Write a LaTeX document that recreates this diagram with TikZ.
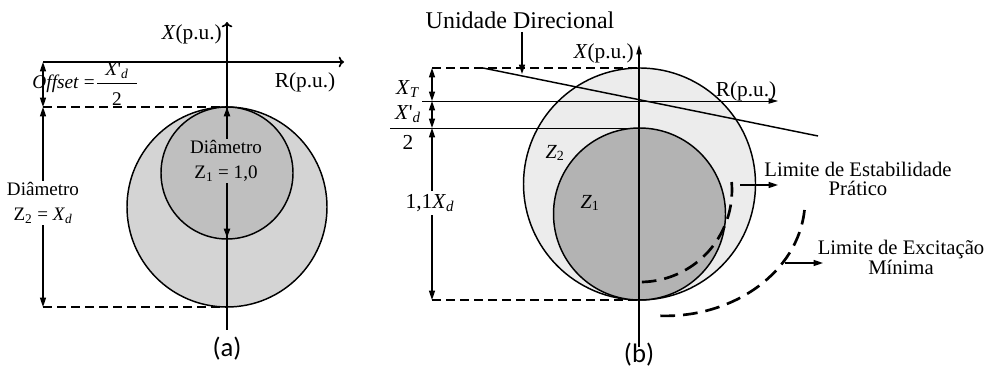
\documentclass[tikz,border=0pt]{standalone}
\usepackage{fontspec}
\setmainfont{Liberation Serif}
\newfontfamily\capfont{Carlito}
\usetikzlibrary{arrows.meta}
\definecolor{gAa}{RGB}{212,212,212}
\definecolor{gAb}{RGB}{191,191,191}
\definecolor{gBa}{RGB}{236,236,236}
\definecolor{gBb}{RGB}{179,179,179}
\tikzset{
  circ/.style={draw=black, line width=1.1pt},
  dashln/.style={line width=2pt, dash pattern=on 7pt off 3.5pt},
  dashcurve/.style={line width=2pt, dash pattern=on 11pt off 6pt},
  tip/.tip={Triangle[length=7pt,width=4.5pt]},
  dimarr/.style={line width=1pt, tip-tip},
  dimone/.style={line width=1pt, -tip},
  axisA/.style={line width=1.2pt, -{To[length=4pt,width=8pt]}},
  axisB/.style={line width=0.8pt, -{Triangle[length=7pt,width=4pt]}},
  thin/.style={line width=0.7pt},
  lbl/.style={inner sep=1pt, font=\fontsize{14.3}{18.75}\selectfont, align=center},
  axl/.style={inner sep=0pt, font=\fontsize{16}{18}\selectfont},
  caption/.style={inner sep=0pt, font=\capfont\fontsize{20}{22}\selectfont},
  limlbl/.style={inner sep=0pt, font=\fontsize{15.5}{14}\selectfont, align=center},
}
\newcommand{\vX}{\textit{X}}
\newcommand{\pr}{\textquotesingle}
\newcommand{\sbi}[1]{\textsubscript{\textit{#1}}}
\begin{document}
\begin{tikzpicture}[x=0.75pt,y=-0.75pt]
\useasboundingbox (0,0) rectangle (987,373);

% ---------------- panel (a) ----------------
\coordinate (aC1) at (227,207);
\coordinate (aC2) at (227,173);
\fill[gAa] (aC1) circle (100);
\draw[circ] (aC1) circle (100);
\fill[gAb] (aC2) circle (66);
\draw[circ] (aC2) circle (66);

\coordinate (aXb) at (227,330);
\coordinate (aXt) at (227,22);
\draw[axisA] (aXb) -- (aXt);
\coordinate (aRl) at (43,62);
\coordinate (aRr) at (344,62);
\draw[axisA] (aRl) -- (aRr);

\coordinate (aTl) at (43,107);
\coordinate (aTr) at (227,107);
\coordinate (aBl) at (43,307);
\coordinate (aBr) at (227,307);
\draw[dashln] (aTl) -- (aTr);
\draw[dashln] (aBl) -- (aBr);

\coordinate (aIb) at (227,238);
\draw[dimarr, line width=1.6pt] (aTr) -- (aIb);
\node[lbl, fill=gAb] (aD1) at (226,161) {Diâmetro\\Z\textsubscript{1} = 1,0};

\draw[dimarr] (aRl) -- (aTl);
\draw[dimarr] (aTl) -- (aBl);
\node[lbl, fill=white] (aD2) at (43,203) {Diâmetro\\Z\textsubscript{2} = \vX\sbi{d}};

\node[axl, anchor=base east] (aXl) at (222,40) {\vX(p.u.)};
\node[axl, anchor=base] (aRlab) at (305,88) {R(p.u.)};

\node[inner sep=0pt, anchor=base east, font=\fontsize{14.5}{16}\selectfont] (aOff) at (95,89) {\textit{Offset} =};
\node[inner sep=0pt, font=\fontsize{14.5}{16}\selectfont] (aNum) at (117,71) {\vX\pr\sbi{d}};
\coordinate (aFl) at (97,83);
\coordinate (aFr) at (137,83);
\draw[thin] (aFl) -- (aFr);
\node[inner sep=0pt, font=\fontsize{14.5}{16}\selectfont] (aDen) at (117,99) {2};

\node[caption] (capA) at (227,349) {(a)};

% ---------------- panel (b) ----------------
\coordinate (bC1) at (639.5,184);
\coordinate (bC2) at (639.5,214);
\fill[gBa] (bC1) circle (116);
\draw[circ] (bC1) circle (116);
\fill[gBb] (bC2) circle (86);
\draw[circ] (bC2) circle (86);

\coordinate (bXb) at (639,347);
\coordinate (bXt) at (639,45);
\draw[axisB] (bXb) -- (bXt);
\coordinate (bRl) at (422,101);
\coordinate (bRr) at (778,101);
\draw[thin, -{Triangle[length=7pt,width=4pt]}] (bRl) -- (bRr);
\coordinate (bMl) at (390,128);
\coordinate (bMr) at (639,128);
\draw[thin] (bMl) -- (bMr);

\coordinate (bTl) at (432,68);
\coordinate (bTr) at (639,68);
\coordinate (bBl) at (432,300);
\coordinate (bBr) at (639,300);
\draw[dashln] (bTl) -- (bTr);
\draw[dashln] (bBl) -- (bBr);

\coordinate (bDs) at (483,68);
\coordinate (bDe) at (818,136);
\draw[line width=1.1pt] (bDs) -- (bDe);

\node[inner sep=0pt, font=\fontsize{18}{20}\selectfont] (bUD) at (520,20) {Unidade Direcional};
\coordinate (bUa) at (522,32);
\coordinate (bUb) at (522,74);
\draw[dimone] (bUa) -- (bUb);

\coordinate (bM1) at (432,101);
\coordinate (bM2) at (432,128);
\draw[dimarr] (bTl) -- (bM1);
\draw[dimarr] (bM1) -- (bM2);
\draw[dimarr] (bM2) -- (bBl);
\node[axl, fill=white, inner sep=2pt] (b11) at (430,203) {1,1\vX\sbi{d}};

\node[axl] (bXT) at (408,89) {\vX\sbi{T}};
\node[axl] (bNum) at (408,114) {\vX\pr\sbi{d}};
\node[axl] (bDen) at (408,142) {2};

\node[axl, anchor=base east] (bXl) at (634,59) {\vX(p.u.)};
\node[axl, anchor=base] (bRlab) at (746,97) {R(p.u.)};

\node[inner sep=0pt, font=\fontsize{15}{16}\selectfont] (bZ2) at (555,153) {\textit{Z}\textsubscript{2}};
\node[inner sep=0pt, font=\fontsize{15}{16}\selectfont] (bZ1) at (590,203) {\textit{Z}\textsubscript{1}};

% practical stability limit
\coordinate (bSs) at (731.6,182);
\draw[dashcurve] (bSs) arc[start angle=-5, end angle=90, radius=92];
% minimum excitation limit
\coordinate (bEs) at (804.5,210);
\draw[dashcurve] (bEs) arc[start angle=5, end angle=92, x radius=140, y radius=116];

\coordinate (bSa) at (740,185);
\coordinate (bSb) at (778,185);
\draw[dimone] (bSa) -- (bSb);
\node[limlbl] (bSl) at (858,179) {Limite de Estabilidade\\Prático};

\coordinate (bEa) at (785,263);
\coordinate (bEb) at (823,263);
\draw[dimone] (bEa) -- (bEb);
\node[limlbl] (bEl) at (901,257) {Limite de Excitação\\Mínima};

\node[caption] (capB) at (639,355) {(b)};
\end{tikzpicture}
\end{document}
